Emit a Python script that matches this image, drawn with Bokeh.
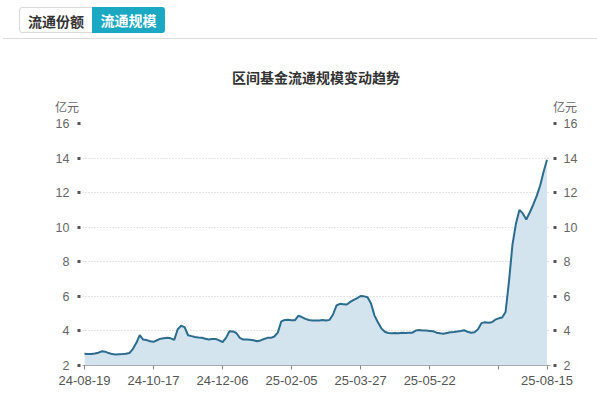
from bokeh.plotting import figure
from bokeh.layouts import column
from bokeh.models import Range1d, FixedTicker, LinearAxis, Div
from bokeh.embed import file_html
from bokeh.resources import INLINE

# ---- data ----
tabs = ["流通份额", "流通规模"]
title_text = "区间基金流通规模变动趋势"
unit_text = "亿元"
x_tick_idx = [0, 20, 40, 60, 80, 100, 120, 134]
x_tick_labels = ["24-08-19", "24-10-17", "24-12-06", "25-02-05", "25-03-27", "25-05-22", "", "25-08-15"]
y_ticks = [2, 4, 6, 8, 10, 12, 14, 16]
scale_values = [
    2.68, 2.67, 2.67, 2.69, 2.74, 2.82, 2.80, 2.72, 2.66, 2.64,
    2.65, 2.66, 2.68, 2.72, 2.95, 3.30, 3.76, 3.50, 3.47, 3.40,
    3.37, 3.46, 3.55, 3.58, 3.60, 3.57, 3.48, 4.10, 4.30, 4.22,
    3.75, 3.70, 3.65, 3.62, 3.60, 3.55, 3.50, 3.53, 3.54, 3.45,
    3.36, 3.60, 3.98, 3.97, 3.88, 3.60, 3.50, 3.50, 3.49, 3.46,
    3.40, 3.45, 3.53, 3.60, 3.60, 3.68, 3.90, 4.55, 4.63, 4.65,
    4.62, 4.62, 4.88, 4.80, 4.70, 4.63, 4.60, 4.61, 4.60, 4.63,
    4.60, 4.64, 4.95, 5.47, 5.57, 5.55, 5.53, 5.68, 5.80, 5.90,
    6.02, 6.00, 5.95, 5.60, 4.90, 4.50, 4.15, 3.95, 3.88, 3.87,
    3.88, 3.87, 3.89, 3.88, 3.90, 3.90, 4.02, 4.05, 4.03, 4.02,
    4.00, 3.98, 3.90, 3.86, 3.84, 3.88, 3.92, 3.94, 3.97, 4.00,
    4.04, 3.95, 3.90, 3.93, 4.10, 4.45, 4.50, 4.47, 4.50, 4.65,
    4.73, 4.78, 5.10, 6.90, 9.00, 10.20, 11.00, 10.80, 10.45, 10.85,
    11.30, 11.80, 12.40, 13.20, 13.90,
]
idx = list(range(len(scale_values)))

CJK = "Noto Sans CJK SC"
LAT = "Liberation Sans"

# ---- header: tabs, title, unit labels ----
HEAD_H = 113
tab_style = ("position:absolute;top:7px;height:26px;line-height:26px;box-sizing:border-box;"
             f"font-family:'{CJK}';font-weight:bold;font-size:14px;text-align:center;")
txt_style = f"position:absolute;font-family:'{CJK}';white-space:nowrap;"
header_html = (
    f"<div style='position:relative;width:597px;height:{HEAD_H}px;margin:0;padding:0;'>"
    f"<div style=\"{tab_style}left:19px;width:74px;border:1px solid #d9d9d9;border-radius:3px 0 0 3px;background:#fff;color:#333;\">{tabs[0]}</div>"
    f"<div style=\"{tab_style}left:92px;width:73px;background:#1ba8c2;color:#fff;border-radius:0 3px 3px 0;\">{tabs[1]}</div>"
    "<div style='position:absolute;left:3px;top:38px;width:594px;height:1px;background:#dddddd;'></div>"
    f"<div style=\"{txt_style}left:216px;width:200px;top:67px;height:20px;line-height:20px;text-align:center;"
    f"font-size:14px;font-weight:bold;color:#333;\">{title_text}</div>"
    f"<div style=\"{txt_style}left:55px;top:99px;height:16px;line-height:16px;font-size:12px;color:#666;\">{unit_text}</div>"
    f"<div style=\"{txt_style}left:553px;top:99px;height:16px;line-height:16px;font-size:12px;color:#666;\">{unit_text}</div>"
    "</div>"
)
h = Div(text=header_html, width=597, height=HEAD_H, margin=(0, 0, 0, 0))

# ---- main chart ----
FRAME_L, FRAME_R, FRAME_T, FRAME_B = 82, 550, 123, 365
px_per_idx = (546.5 - 84) / 134.0
x0 = -(84 - FRAME_L) / px_per_idx
x1 = 134 + (FRAME_R - 546.5) / px_per_idx
p = figure(width=597, height=393 - HEAD_H, output_backend="svg", toolbar_location=None,
           x_range=Range1d(x0, x1), y_range=Range1d(2, 16),
           min_border_left=FRAME_L, min_border_right=597 - FRAME_R,
           min_border_top=FRAME_T - HEAD_H, min_border_bottom=393 - FRAME_B,
           margin=(0, 0, 0, 0))
p.outline_line_color = None
p.xgrid.visible = False
p.ygrid.grid_line_color = "#c8c8c8"
p.ygrid.grid_line_dash = "1 2"
p.ygrid.grid_line_width = 1
p.ygrid.ticker = FixedTicker(ticks=y_ticks)

p.varea(x=idx, y1=[2] * len(idx), y2=scale_values, fill_color="#d3e4ee")
p.line(x=idx, y=scale_values, line_color="#2b6c8f", line_width=2)

# x axis
xa = p.xaxis[0]
xa.ticker = FixedTicker(ticks=x_tick_idx)
xa.major_label_overrides = {i: l for i, l in zip(x_tick_idx, x_tick_labels)}
xa.axis_line_color = "#aaaaaa"
xa.major_tick_line_color = "#888888"
xa.major_tick_in = 0
xa.major_tick_out = 4
xa.minor_tick_line_color = None
xa.major_label_text_font = LAT
xa.major_label_text_font_size = "13px"
xa.major_label_text_color = "#555555"
xa.major_label_standoff = 6

# y axes
def style_y(ax):
    ax.ticker = FixedTicker(ticks=y_ticks)
    ax.axis_line_color = None
    ax.major_tick_line_color = "#555555"
    ax.major_tick_line_width = 3
    ax.minor_tick_line_color = None
    ax.major_label_text_font = LAT
    ax.major_label_text_font_size = "12.5px"
    ax.major_label_text_color = "#666666"

style_y(p.yaxis[0])
p.yaxis[0].major_tick_in = -2
p.yaxis[0].major_tick_out = 5
p.yaxis[0].major_label_standoff = 8
ry = LinearAxis()
style_y(ry)
ry.major_tick_in = -3
ry.major_tick_out = 6
ry.major_label_standoff = 7
p.add_layout(ry, "right")

layout = column(h, p, spacing=0)
open("out.html", "w").write(file_html(layout, INLINE))
